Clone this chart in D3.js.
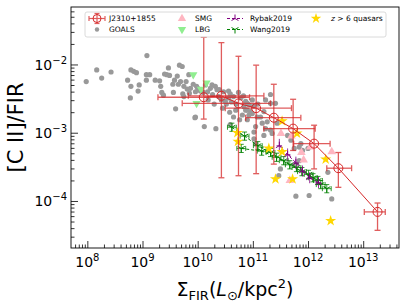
<!DOCTYPE html>
<html>
<head>
<meta charset="utf-8">
<script src="https://cdn.jsdelivr.net/npm/d3@7"></script>
<style>
  body { margin: 0; background: #fff; }
  svg { display: block; font-family: "DejaVu Sans", sans-serif; }
</style>
</head>
<body>
<svg id="chart" width="407" height="305"></svg>
<script>
// all values are log10 (Sigma_FIR in Lsun/kpc^2, [CII]/FIR ratio)

// GOALS local LIRGs
var goalsLogSigma = [7.98, 8.17, 8.26, 8.43, 8.73, 8.79, 8.84, 8.89, 8.79, 8.94, 8.92, 8.78, 9.08, 9.07, 9.13, 9.07,
  9.23, 9.31, 9.33, 9.35, 9.40, 9.44, 9.49, 9.47, 9.38, 9.55, 9.58, 9.60, 9.56, 9.63, 9.67, 9.65, 9.69, 9.79, 9.81,
  9.73, 9.75, 9.84, 9.85, 9.95, 9.72, 9.75, 9.92, 9.98, 10.00, 9.87, 9.96, 10.05, 10.26, 10.32, 10.35, 10.47, 10.56,
  10.59, 10.65, 10.56, 10.50, 10.78, 10.87, 10.93, 10.99, 10.84, 10.69, 10.81, 10.99, 11.08, 10.90, 9.96, 10.12,
  10.33, 10.23, 10.14, 10.59, 10.18, 10.27, 10.38, 10.43, 10.52, 10.61, 10.70, 10.45, 10.58, 10.74, 10.83, 10.19,
  10.30, 10.39, 10.10, 10.90, 11.01, 11.09, 10.76, 10.65, 11.32, 11.23, 10.90, 10.87, 10.96, 10.93, 11.14, 11.20,
  11.32, 11.41, 11.26, 11.17, 11.05, 11.02, 11.23, 11.32, 11.44, 11.35, 11.63, 11.69, 11.87, 11.84, 11.90, 11.75,
  11.20, 11.02, 11.05, 11.50, 11.47, 11.84, 11.78, 12.02, 12.36, 12.43, 12.00];
var goalsLogRatio = [-2.25, -2.08, -2.20, -2.11, -2.23, -2.08, -2.10, -2.12, -2.32, -2.30, -2.39, -2.49, -1.87, -2.15,
  -2.15, -2.23, -2.23, -2.24, -2.32, -2.41, -2.14, -2.15, -2.16, -2.05, -2.45, -2.29, -2.23, -2.65, -2.41, -2.17,
  -2.01, -2.29, -2.25, -2.25, -2.36, -2.43, -2.47, -2.15, -2.42, -2.78, -2.03, -2.32, -2.29, -2.32, -2.35, -2.35,
  -2.40, -2.39, -2.30, -2.32, -2.37, -2.40, -2.39, -2.43, -2.47, -2.49, -2.54, -2.49, -2.54, -2.59, -2.52, -2.62,
  -2.67, -2.74, -2.72, -2.77, -2.81, -2.77, -2.91, -2.94, -2.35, -2.30, -2.88, -2.40, -2.44, -2.47, -2.52, -2.58,
  -2.55, -2.58, -2.64, -2.70, -2.41, -2.46, -2.52, -2.58, -2.37, -2.41, -2.67, -2.61, -2.58, -2.81, -2.77, -2.44,
  -2.52, -2.57, -2.67, -2.69, -2.74, -2.77, -2.69, -2.57, -2.57, -2.84, -2.86, -2.91, -2.99, -2.94, -2.96, -2.86,
  -3.01, -3.04, -3.11, -3.16, -3.21, -3.26, -3.23, -3.04, -3.09, -3.16, -3.53, -3.63, -3.41, -3.93, -3.92, -3.58,
  -3.97, -3.23];

// SMG
var smgLogSigma = [11.51, 11.70, 11.88, 11.92, 12.04, 11.67, 12.43];
var smgLogRatio = [-3.01, -3.05, -3.29, -3.40, -3.21, -3.70, -3.28];

// LBG
var lbgLogSigma = [9.92, 10.16, 10.06, 9.98];
var lbgLogRatio = [-2.15, -2.27, -2.36, -2.57];

// z > 6 quasars
var qsoLogSigma = [10.72, 10.73, 11.53, 11.80, 11.29, 11.53, 11.41, 11.72, 12.32, 12.41];
var qsoLogRatio = [-3.00, -3.13, -2.83, -3.01, -3.23, -3.28, -3.68, -3.68, -3.39, -4.29];

// Rybak2019
var rybakLogSigma = [11.48, 11.63, 11.78, 11.90, 12.03, 12.19];
var rybakLogRatio = [-3.19, -3.32, -3.44, -3.56, -3.66, -3.73];
var rybakSigmaErr = [0.05, 0.05, 0.05, 0.05, 0.05, 0.05];
var rybakRatioErr = [0.10, 0.09, 0.09, 0.08, 0.08, 0.08];

// Wang2019 (two sources)
var wangALogSigma = [10.62, 10.85, 11.09, 11.32, 11.56, 11.79, 12.01, 12.18, 12.34];
var wangALogRatio = [-2.92, -3.05, -3.19, -3.29, -3.41, -3.51, -3.61, -3.70, -3.82];
var wangBLogSigma = [10.79, 11.16, 11.43, 11.67, 11.89, 12.09, 12.23];
var wangBLogRatio = [-3.23, -3.27, -3.36, -3.47, -3.57, -3.66, -3.76];
var wangSigmaErr = [0.08, 0.08, 0.08, 0.08, 0.08, 0.08, 0.08, 0.08, 0.08];
var wangRatioErr = [0.06, 0.06, 0.06, 0.06, 0.06, 0.06, 0.06, 0.06, 0.06];

// J2310+1855 rings
var jLogSigma   = [10.11, 10.43, 10.74, 11.06, 11.38, 11.73, 12.11, 12.55, 13.26];
var jLogSigmaLo = [9.28, 9.83, 9.72, 10.50, 10.87, 11.20, 11.74, 12.34, 13.02];
var jLogSigmaHi = [10.94, 11.20, 11.32, 11.70, 11.87, 12.13, 12.40, 12.79, 13.40];
var jLogRatio   = [-2.48, -2.46, -2.57, -2.64, -2.78, -2.94, -3.16, -3.52, -4.16];
var jLogRatioLo = [-2.80, -3.66, -3.63, -3.60, -3.46, -3.26, -3.53, -3.80, -4.43];
var jLogRatioHi = [-1.60, -1.68, -1.88, -2.01, -2.29, -2.51, -2.89, -3.29, -4.03];

var xMajor = [8, 9, 10, 11, 12, 13];
var yMajor = [-2, -3, -4];

var p = function(v) { return Math.pow(10, v); };

var margin = { left: 71, right: 399, top: 7, bottom: 248 };
var x = d3.scaleLog().domain([p(7.704), p(13.649)]).range([margin.left, margin.right]);
var y = d3.scaleLog().domain([p(-4.689), p(-1.158)]).range([margin.bottom, margin.top]);

var svg = d3.select('#chart');

// minor tick values for each decade in view
var xMinor = [], yMinor = [];
for (var e = 7; e <= 13; e++) {
    for (var m = 2; m <= 9; m++) {
        var v = m * p(e);
        if (v > x.domain()[0] && v < x.domain()[1]) xMinor.push(v);
    }
}
for (var e2 = -5; e2 <= -2; e2++) {
    for (var m2 = 2; m2 <= 9; m2++) {
        var v2 = m2 * p(e2);
        if (v2 > y.domain()[0] && v2 < y.domain()[1]) yMinor.push(v2);
    }
}

// ticks point inward
function tickAxis(axis, vals, size) {
    return axis.tickValues(vals).tickSize(size).tickFormat('');
}
var gx = svg.append('g').attr('transform', 'translate(0,' + margin.bottom + ')');
gx.append('g').call(tickAxis(d3.axisBottom(x), xMajor.map(p), -7));
gx.append('g').call(tickAxis(d3.axisBottom(x), xMinor, -3.5));
var gy = svg.append('g').attr('transform', 'translate(' + margin.left + ',0)');
gy.append('g').call(tickAxis(d3.axisLeft(y), yMajor.map(p), -7));
gy.append('g').call(tickAxis(d3.axisLeft(y), yMinor, -3.5));
svg.selectAll('.domain').remove();
svg.selectAll('.tick line').attr('stroke', '#000').attr('stroke-width', 0.8);

// tick labels with superscripts
xMajor.forEach(function(e) {
    var t = svg.append('text').attr('x', x(p(e))).attr('y', 267)
        .attr('text-anchor', 'middle').attr('font-size', 14);
    t.append('tspan').text('10');
    t.append('tspan').attr('dy', -6).attr('font-size', 10).text(e);
});
yMajor.forEach(function(e) {
    var t = svg.append('text').attr('x', 67).attr('y', y(p(e)) + 5.5)
        .attr('text-anchor', 'end').attr('font-size', 14);
    t.append('tspan').text('10');
    t.append('tspan').attr('dy', -6).attr('font-size', 10).text('\u2212' + (-e));
});

var plot = svg.append('g');

function errBars(g, cx, cy, x0, x1, y0, y1, color, cap, width, opacity) {
    var eb = g.append('g').attr('stroke', color).attr('stroke-width', width).attr('opacity', opacity);
    eb.append('line').attr('x1', x0).attr('x2', x1).attr('y1', cy).attr('y2', cy);
    eb.append('line').attr('x1', cx).attr('x2', cx).attr('y1', y0).attr('y2', y1);
    [x0, x1].forEach(function(xx) {
        eb.append('line').attr('x1', xx).attr('x2', xx).attr('y1', cy - cap).attr('y2', cy + cap);
    });
    [y0, y1].forEach(function(yy) {
        eb.append('line').attr('x1', cx - cap).attr('x2', cx + cap).attr('y1', yy).attr('y2', yy);
    });
}

// tri_up / tri_down markers
function triPath(up, r) {
    var s = up ? -1 : 1;
    var dx = r * 0.866, dy = r * 0.5;
    return 'M0,0L0,' + (s * r) + 'M0,0L' + dx + ',' + (-s * dy) + 'M0,0L' + (-dx) + ',' + (-s * dy);
}

// GOALS
plot.selectAll('.goals')
    .data(goalsLogSigma.map(function(d, i) { return [d, goalsLogRatio[i]]; }))
    .enter().append('circle')
    .attr('class', 'goals')
    .attr('cx', function(d) { return x(p(d[0])); })
    .attr('cy', function(d) { return y(p(d[1])); })
    .attr('r', 2.6)
    .attr('fill', '#999999');

// SMG
plot.selectAll('.smg')
    .data(smgLogSigma.map(function(d, i) { return [d, smgLogRatio[i]]; }))
    .enter().append('path')
    .attr('class', 'smg')
    .attr('d', d3.symbol().type(d3.symbolTriangle).size(32))
    .attr('transform', function(d) { return 'translate(' + x(p(d[0])) + ',' + y(p(d[1])) + ')'; })
    .attr('fill', '#ffb6c1');

// LBG
plot.selectAll('.lbg')
    .data(lbgLogSigma.map(function(d, i) { return [d, lbgLogRatio[i]]; }))
    .enter().append('path')
    .attr('class', 'lbg')
    .attr('d', d3.symbol().type(d3.symbolTriangle).size(30))
    .attr('transform', function(d) { return 'translate(' + x(p(d[0])) + ',' + y(p(d[1])) + ') rotate(180)'; })
    .attr('fill', '#90ee90');

// Wang2019
var line = d3.line().x(function(d) { return x(p(d[0])); }).y(function(d) { return y(p(d[1])); });
[[wangALogSigma, wangALogRatio], [wangBLogSigma, wangBLogRatio]].forEach(function(src) {
    var pts = src[0].map(function(d, i) { return [d, src[1][i]]; });
    var g = plot.append('g');
    pts.forEach(function(d, i) {
        errBars(g, x(p(d[0])), y(p(d[1])),
            x(p(d[0] - wangSigmaErr[i])), x(p(d[0] + wangSigmaErr[i])),
            y(p(d[1] - wangRatioErr[i])), y(p(d[1] + wangRatioErr[i])), '#008000', 2.5, 0.8, 1);
    });
    g.append('path').datum(pts).attr('d', line).attr('fill', 'none')
        .attr('stroke', '#008000').attr('stroke-width', 1).attr('stroke-dasharray', '3,2');
    g.selectAll('.tri').data(pts).enter().append('path')
        .attr('d', triPath(false, 4))
        .attr('transform', function(d) { return 'translate(' + x(p(d[0])) + ',' + y(p(d[1])) + ')'; })
        .attr('stroke', '#008000').attr('stroke-width', 1).attr('fill', 'none');
});

// Rybak2019
(function() {
    var pts = rybakLogSigma.map(function(d, i) { return [d, rybakLogRatio[i]]; });
    var g = plot.append('g');
    pts.forEach(function(d, i) {
        errBars(g, x(p(d[0])), y(p(d[1])),
            x(p(d[0] - rybakSigmaErr[i])), x(p(d[0] + rybakSigmaErr[i])),
            y(p(d[1] - rybakRatioErr[i])), y(p(d[1] + rybakRatioErr[i])), '#800080', 0, 0.8, 1);
    });
    g.append('path').datum(pts).attr('d', line).attr('fill', 'none')
        .attr('stroke', '#800080').attr('stroke-width', 1).attr('stroke-dasharray', '3,2');
    g.selectAll('.tri').data(pts).enter().append('path')
        .attr('d', triPath(true, 4))
        .attr('transform', function(d) { return 'translate(' + x(p(d[0])) + ',' + y(p(d[1])) + ')'; })
        .attr('stroke', '#800080').attr('stroke-width', 1).attr('fill', 'none');
})();

// quasars
plot.selectAll('.qso')
    .data(qsoLogSigma.map(function(d, i) { return [d, qsoLogRatio[i]]; }))
    .enter().append('path')
    .attr('class', 'qso')
    .attr('d', d3.symbol().type(d3.symbolStar).size(38))
    .attr('transform', function(d) { return 'translate(' + x(p(d[0])) + ',' + y(p(d[1])) + ')'; })
    .attr('fill', '#ffd700');

// J2310+1855
(function() {
    var red = '#d62728';
    var g = plot.append('g');
    jLogSigma.forEach(function(d, i) {
        errBars(g, x(p(d)), y(p(jLogRatio[i])),
            x(p(jLogSigmaLo[i])), x(p(jLogSigmaHi[i])),
            y(p(jLogRatioLo[i])), y(p(jLogRatioHi[i])), red, 3, 1.3, 0.75);
    });
    var pts = jLogSigma.map(function(d, i) { return [d, jLogRatio[i]]; });
    g.append('path').datum(pts).attr('d', line).attr('fill', 'none')
        .attr('stroke', red).attr('stroke-width', 1);
    g.selectAll('.jm').data(pts).enter().append('circle')
        .attr('cx', function(d) { return x(p(d[0])); })
        .attr('cy', function(d) { return y(p(d[1])); })
        .attr('r', 4.5).attr('fill', 'none').attr('stroke', red).attr('stroke-width', 1);
})();

// frame
svg.append('rect')
    .attr('x', margin.left).attr('y', margin.top)
    .attr('width', margin.right - margin.left).attr('height', margin.bottom - margin.top)
    .attr('fill', 'none').attr('stroke', '#000').attr('stroke-width', 0.9);

// legend
var lg = svg.append('g').attr('font-size', 7.5);
lg.append('rect').attr('x', 85).attr('y', 12).attr('width', 301).attr('height', 25).attr('rx', 2)
    .attr('fill', '#fff').attr('fill-opacity', 0.8).attr('stroke', '#d0d0d0').attr('stroke-width', 0.8);
var r1 = 18.5, r2 = 29.5;
function legText(tx, ty, s) {
    return lg.append('text').attr('x', tx).attr('y', ty + 2.7).text(s);
}
// J2310 handle
(function() {
    var red = '#d62728';
    errBars(lg, 97, r1, 89, 105, r1 + 5, r1 - 5, red, 2.5, 1.2, 0.75);
    lg.append('circle').attr('cx', 97).attr('cy', r1).attr('r', 4).attr('fill', 'none').attr('stroke', red);
})();
legText(109, r1, 'J2310+1855');
lg.append('circle').attr('cx', 97).attr('cy', r2).attr('r', 2.2).attr('fill', '#999999');
legText(109, r2, 'GOALS');
lg.append('path').attr('d', d3.symbol().type(d3.symbolTriangle).size(30))
    .attr('transform', 'translate(182,' + r1 + ')').attr('fill', '#ffb6c1');
legText(195, r1, 'SMG');
lg.append('path').attr('d', d3.symbol().type(d3.symbolTriangle).size(30))
    .attr('transform', 'translate(182,' + r2 + ') rotate(180)').attr('fill', '#90ee90');
legText(195, r2, 'LBG');
[[r1, '#800080', true, 'Rybak2019'], [r2, '#008000', false, 'Wang2019']].forEach(function(h) {
    lg.append('line').attr('x1', 227).attr('x2', 243).attr('y1', h[0]).attr('y2', h[0])
        .attr('stroke', h[1]).attr('stroke-dasharray', '3,2');
    lg.append('path').attr('d', triPath(h[2], 4)).attr('transform', 'translate(235,' + h[0] + ')')
        .attr('stroke', h[1]).attr('fill', 'none');
    legText(250, h[0], h[3]);
});
lg.append('path').attr('d', d3.symbol().type(d3.symbolStar).size(34))
    .attr('transform', 'translate(316,' + r1 + ')').attr('fill', '#ffd700');
var qt = legText(331, r1, '');
qt.append('tspan').attr('font-style', 'italic').text('z');
qt.append('tspan').text(' > 6 quasars');

// axis titles
var xt = svg.append('text').attr('x', 235).attr('y', 296).attr('text-anchor', 'middle').attr('font-size', 19);
xt.append('tspan').text('\u03a3');
xt.append('tspan').attr('dy', 4).attr('font-size', 13).text('FIR');
xt.append('tspan').attr('dy', -4).text('(');
xt.append('tspan').attr('font-style', 'italic').text('L');
xt.append('tspan').attr('dy', 4).attr('font-size', 13).text('\u2299');
xt.append('tspan').attr('dy', -4).text('/kpc');
xt.append('tspan').attr('dy', -8).attr('font-size', 13).text('2');
xt.append('tspan').attr('dy', 8).text(')');

svg.append('text').attr('transform', 'translate(23,127.5) rotate(-90)')
    .attr('text-anchor', 'middle').attr('font-size', 21).text('[C II]/FIR');
</script>
</body>
</html>
